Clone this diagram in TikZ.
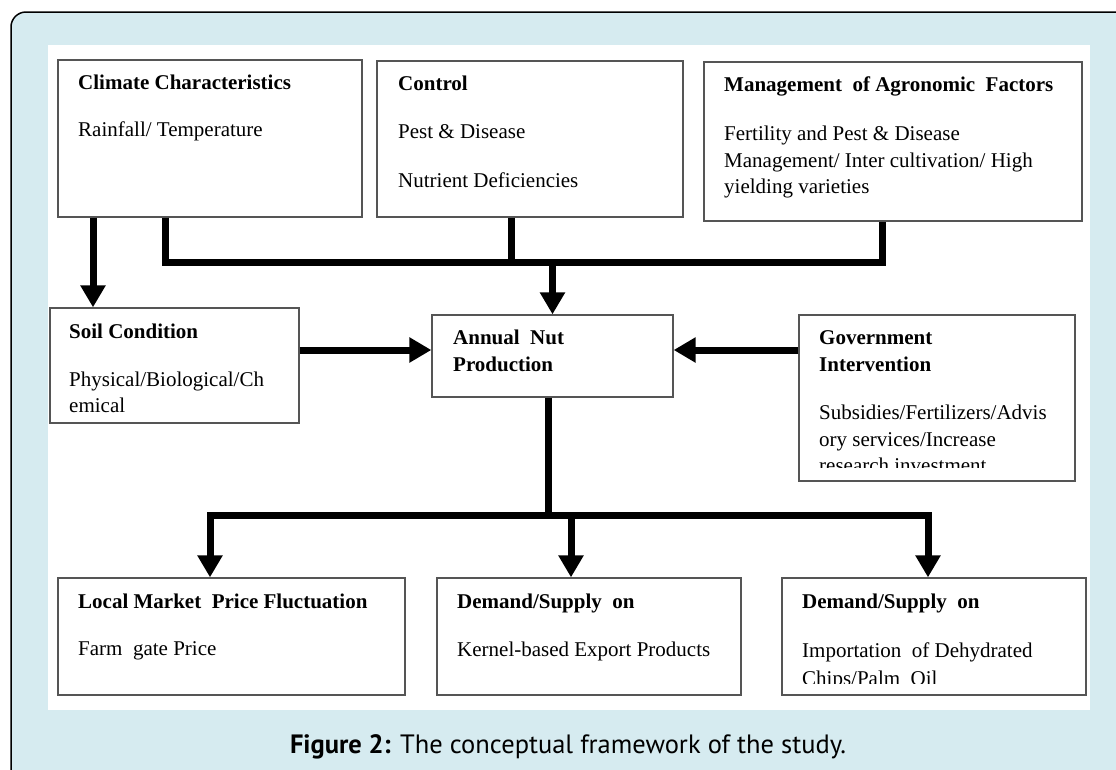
\documentclass[tikz,border=0pt]{standalone}
\usepackage{fontspec}
\setmainfont{Liberation Serif}
\newfontfamily\capfont{PT Sans}
\usetikzlibrary{arrows.meta,fit}
\definecolor{bgblue}{RGB}{214,235,240}
\definecolor{boxgray}{RGB}{85,85,85}
\begin{document}
\begin{tikzpicture}[x=1pt,y=-1pt,
  box/.style={draw=boxgray,line width=1.3pt,inner sep=0pt,fill=white},
  txt/.style={anchor=base west,inner sep=0pt,font=\fontsize{21}{26}\selectfont},
  ttl/.style={anchor=base west,inner sep=0pt,font=\fontsize{21}{26}\selectfont\bfseries},
  conn/.style={line width=7pt,line join=miter},
  tip/.tip={Triangle[width=24pt,length=22pt]},
  arr/.style={conn,-tip},
]
\clip (0,0) rectangle (1116,769);
\useasboundingbox (0,0) rectangle (1116,769);
% frame
\draw[fill=bgblue,line width=1.5pt,rounded corners=15pt] (11,12) rectangle (1150,800);
\fill[white] (48,45) rectangle (1090,710);

% boxes
\node[box,fit={(58,60)(362,217)}] (climate) {};
\node[box,fit={(377,61)(683,217)}] (control) {};
\node[box,fit={(704,62)(1082,221)}] (mgmt) {};
\node[box,fit={(50,308)(299,423)}] (soil) {};
\node[box,fit={(432,315)(673,397)}] (annual) {};
\node[box,fit={(799,315)(1075,481)}] (gov) {};
\node[box,fit={(58,578)(405,695)}] (local) {};
\node[box,fit={(437,578)(741,695)}] (dem1) {};
\node[box,fit={(782,578)(1086,695)}] (dem2) {};

% texts
\node[ttl] (climateT) at (78,89) {Climate\ Characteristics};
\node[txt] (climateB) at (78,136) {Rainfall/ Temperature};
\node[ttl] (controlT) at (398,90) {Control};
\node[txt] (controlB1) at (398,138) {Pest \& Disease};
\node[txt] (controlB2) at (398,187) {Nutrient Deficiencies};
\node[ttl] (mgmtT) at (724,91) {Management\ \ of Agronomic\ \ Factors};
\node[txt] (mgmtB1) at (724,140) {Fertility and Pest \& Disease};
\node[txt] (mgmtB2) at (724,167) {Management/ Inter cultivation/ High};
\node[txt] (mgmtB3) at (724,193) {yielding varieties};
\node[ttl] (soilT) at (69,338) {Soil Condition};
\node[txt] (soilB1) at (69,386) {Physical/Biological/Ch};
\node[txt] (soilB2) at (69,412) {emical};
\node[ttl] (annualT1) at (453,344) {Annual\ \ Nut};
\node[ttl] (annualT2) at (453,371) {Production};
\node[ttl] (govT1) at (819,344) {Government};
\node[ttl] (govT2) at (819,371) {Intervention};
\node[txt] (govB1) at (819,419) {Subsidies/Fertilizers/Advis};
\node[txt] (govB2) at (819,446) {ory services/Increase};
\begin{scope}
\clip (800,316) rectangle (1074,467);
\node[txt] (govB3) at (819,472) {research investment};
\end{scope}
\node[ttl] (localT) at (78,608) {Local Market\ \ Price Fluctuation};
\node[txt] (localB) at (78,655) {Farm\ \ gate Price};
\node[ttl] (dem1T) at (457,608) {Demand/Supply\ \ on};
\node[txt] (dem1B) at (457,656) {Kernel-based Export Products};
\node[ttl] (dem2T) at (802,608) {Demand/Supply\ \ on};
\node[txt] (dem2B1) at (802,657) {Importation\ \ of Dehydrated};
\begin{scope}
\clip (783,579) rectangle (1085,683);
\node[txt] (dem2B2) at (802,685) {Chips/Palm\ \ Oil};
\end{scope}

% connectors
\coordinate (xa) at (93,0);
\coordinate (xb) at (165,0);
\coordinate (xc) at (511,0);
\coordinate (xd) at (882,0);
\coordinate (t1) at (0,262);
\coordinate (y1) at (0,350);
\coordinate (xf) at (548,0);
\coordinate (xg) at (210,0);
\coordinate (xh) at (571,0);
\coordinate (xi) at (928,0);
\coordinate (t2) at (0,515);

\draw[arr] (climate.south -| xa) -- (soil.north -| xa);
\draw[conn] (climate.south -| xb) -- (xb |- t1) -- (xd |- t1) -- (mgmt.south -| xd);
\draw[conn] (control.south -| xc) -- (xc |- t1);
\draw[arr] (annual.north |- t1) -- (annual.north);
\draw[arr] (soil.east |- y1) -- (annual.west |- y1);
\draw[arr] (gov.west |- y1) -- (annual.east |- y1);
\draw[conn] (annual.south -| xf) -- (xf |- t2);
\draw[conn,tip-tip] (local.north -| xg) -- (xg |- t2) -- (xi |- t2) -- (dem2.north -| xi);
\draw[arr] (xh |- t2) -- (dem1.north -| xh);

% caption
\node[anchor=base,inner sep=0pt,font=\capfont\fontsize{26.5}{30}\selectfont] (cap) at (568,753)
  {\textbf{Figure 2:} The conceptual framework of the study.};
\end{tikzpicture}
\end{document}
